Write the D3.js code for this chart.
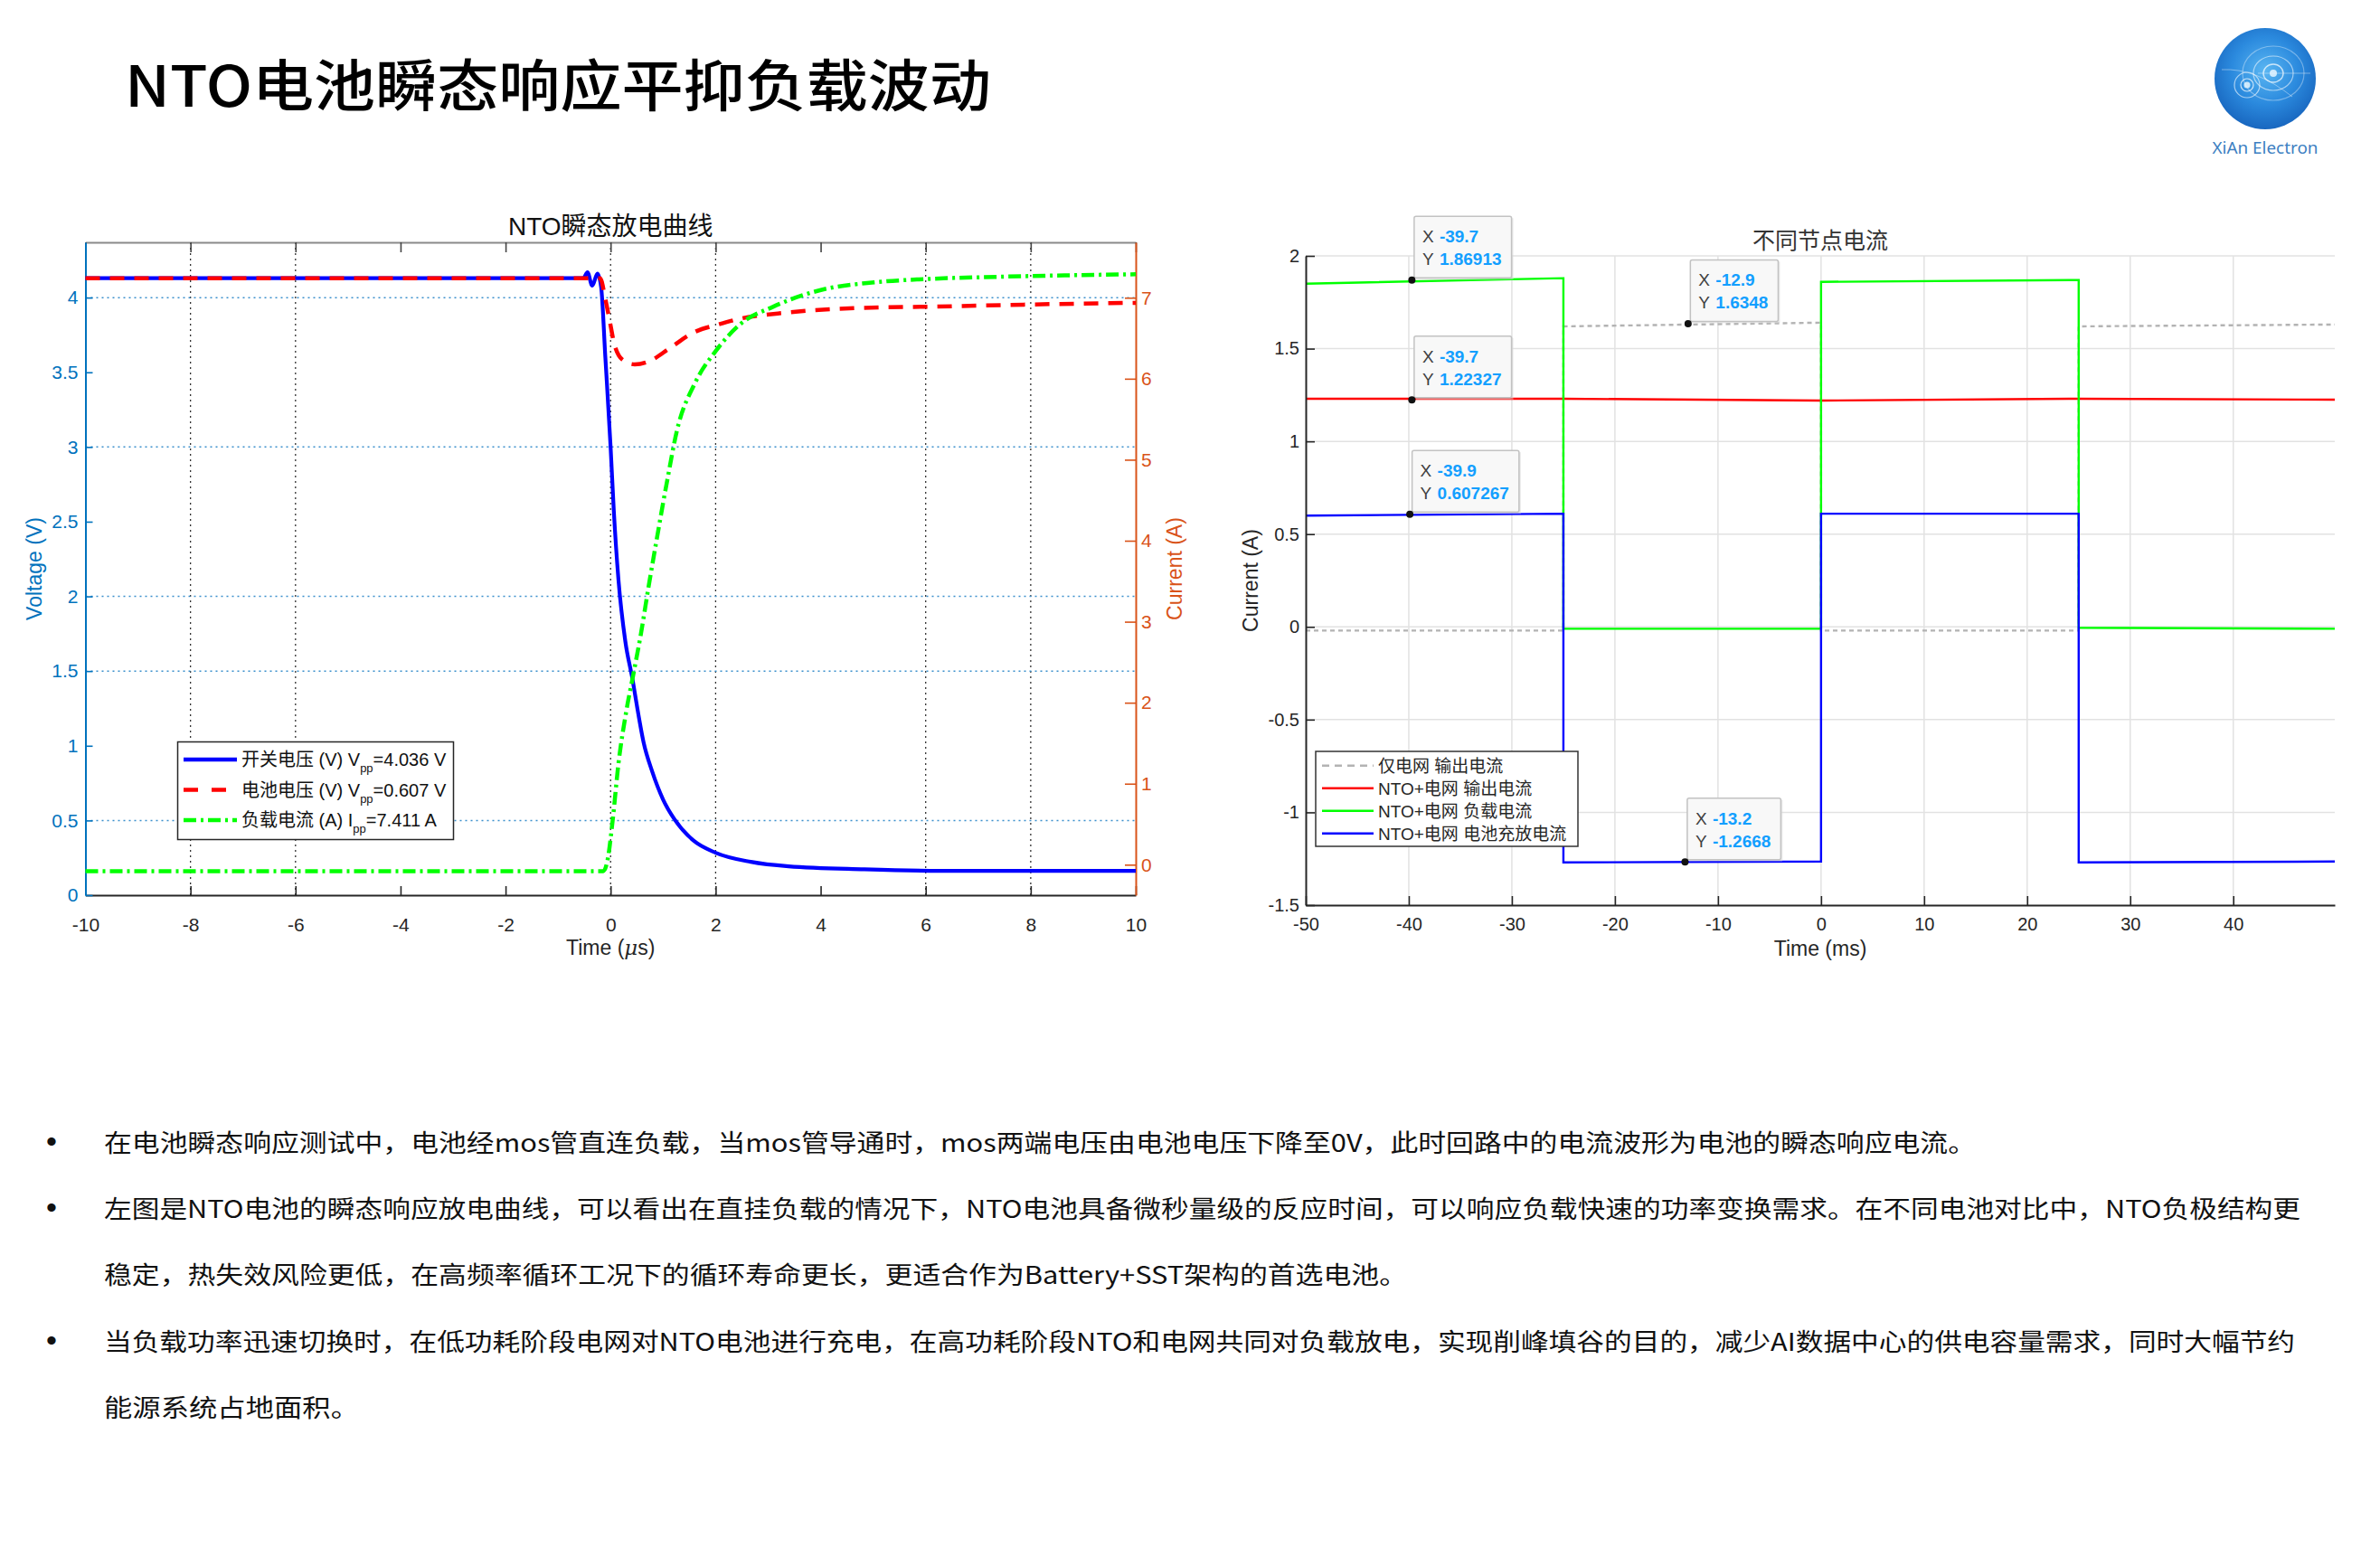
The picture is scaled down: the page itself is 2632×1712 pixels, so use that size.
<!DOCTYPE html>
<html>
<head>
<meta charset="utf-8">
<script src="https://cdn.jsdelivr.net/npm/d3@7"></script>
<style>
  html, body { margin: 0; padding: 0; background: #fff; }
  svg { display: block; }
</style>
</head>
<body>
<svg id="page" width="2632" height="1712"></svg>
<script>
// NTO transient response slide — two scope charts + notes

const FONT = "'Liberation Sans', Arial, 'Noto Sans CJK SC', sans-serif";
const CJK = "'Noto Sans CJK SC', 'Liberation Sans', sans-serif";

// ---- left chart: transient discharge (time in us) ----
const pulseTicks = [-10, -8, -6, -4, -2, 0, 2, 4, 6, 8, 10];
const pulseGrid = [-8, -6, 0, 2, 6, 8];
const voltTicks = [0, 0.5, 1, 1.5, 2, 2.5, 3, 3.5, 4];
const voltGrid = [0.5, 1.5, 2, 3, 4];
const ampTicks = [0, 1, 2, 3, 4, 5, 6, 7];

// [time us, volts]
const switchVoltage = [
  [-10, 4.13], [-0.52, 4.13], [-0.44, 4.17], [-0.35, 4.08], [-0.25, 4.16],
  [-0.18, 4.07], [-0.1, 3.6], [0, 3.0], [0.06, 2.58], [0.15, 2.11],
  [0.28, 1.7], [0.42, 1.44], [0.5, 1.27], [0.63, 1.02], [0.79, 0.83],
  [1.0, 0.64], [1.22, 0.506], [1.58, 0.365], [2.0, 0.284], [2.67, 0.223],
  [3.39, 0.193], [4.83, 0.173], [6.28, 0.163], [10, 0.163]
];
const batteryVoltage = [
  [-10, 4.13], [-0.2, 4.13], [-0.1, 3.99], [-0.02, 3.85], [0.07, 3.69],
  [0.24, 3.58], [0.46, 3.553], [0.77, 3.58], [1.12, 3.66], [1.6, 3.77],
  [2.05, 3.82], [2.48, 3.86], [3.37, 3.9], [4.68, 3.93], [6.17, 3.94],
  [8.0, 3.954], [10, 3.965]
];
// [time us, amps]
const loadCurrent = [
  [-10, -0.08], [-0.14, -0.08], [-0.06, 0.05], [0.04, 0.55], [0.15, 1.25],
  [0.3, 1.9], [0.43, 2.34], [0.58, 2.86], [0.72, 3.42], [0.86, 3.95],
  [1.08, 4.75], [1.26, 5.35], [1.61, 5.95], [2.0, 6.34], [2.48, 6.68],
  [3.1, 6.89], [3.97, 7.09], [5.02, 7.19], [5.99, 7.23], [7.48, 7.26], [10, 7.29]
];
const pulseLegend = [
  { head: "开关电压 (V) V", sub: "pp", tail: "=4.036 V" },
  { head: "电池电压 (V) V", sub: "pp", tail: "=0.607 V" },
  { head: "负载电流 (A) I", sub: "pp", tail: "=7.411 A" }
];

// ---- right chart: node currents (time in ms) ----
const nodeTicksX = [-50, -40, -30, -20, -10, 0, 10, 20, 30, 40];
const nodeTicksY = [-1.5, -1, -0.5, 0, 0.5, 1, 1.5, 2];
// [time ms, amps]
const gridOnly = [[-50, -0.02], [-25, -0.02], [-25, 1.62], [0, 1.64], [0, -0.02], [25, -0.02], [25, 1.62], [49.85, 1.63]];
const ntoOutput = [[-50, 1.23], [-25, 1.23], [0, 1.22], [25, 1.23], [49.85, 1.225]];
const ntoLoad = [[-50, 1.85], [-25, 1.88], [-25, -0.01], [0, -0.01], [0, 1.86], [25, 1.87], [25, -0.005], [49.85, -0.01]];
const ntoBattery = [[-50, 0.6], [-25, 0.61], [-25, -1.27], [0, -1.265], [0, 0.61], [25, 0.61], [25, -1.27], [49.85, -1.265]];
const nodeLegend = ["仅电网 输出电流", "NTO+电网 输出电流", "NTO+电网 负载电流", "NTO+电网 电池充放电流"];
const dataTips = [
  { x: -39.7, y: 1.86913, xs: "-39.7", ys: "1.86913" },
  { x: -39.7, y: 1.22327, xs: "-39.7", ys: "1.22327" },
  { x: -39.9, y: 0.607267, xs: "-39.9", ys: "0.607267" },
  { x: -12.9, y: 1.6348, xs: "-12.9", ys: "1.6348" },
  { x: -13.2, y: -1.2668, xs: "-13.2", ys: "-1.2668" }
];

// ---- notes below the charts ----
const noteLines = [
  { bullet: true,  text: "在电池瞬态响应测试中，电池经mos管直连负载，当mos管导通时，mos两端电压由电池电压下降至0V，此时回路中的电流波形为电池的瞬态响应电流。" },
  { bullet: true,  text: "左图是NTO电池的瞬态响应放电曲线，可以看出在直挂负载的情况下，NTO电池具备微秒量级的反应时间，可以响应负载快速的功率变换需求。在不同电池对比中，NTO负极结构更" },
  { bullet: false, text: "稳定，热失效风险更低，在高频率循环工况下的循环寿命更长，更适合作为Battery+SST架构的首选电池。" },
  { bullet: true,  text: "当负载功率迅速切换时，在低功耗阶段电网对NTO电池进行充电，在高功耗阶段NTO和电网共同对负载放电，实现削峰填谷的目的，减少AI数据中心的供电容量需求，同时大幅节约" },
  { bullet: false, text: "能源系统占地面积。" }
];

const svg = d3.select("#page");
const fmtTick = d => String(d);

function styleAxis(g, color, size, textColor) {
  g.select(".domain").attr("stroke", color).attr("stroke-width", 2);
  g.selectAll(".tick line").attr("stroke", color).attr("stroke-width", 1.6);
  g.selectAll(".tick text")
    .attr("fill", textColor || color)
    .attr("font-family", FONT)
    .attr("font-size", size);
}

// ---------- header ----------
svg.append("text")
  .attr("x", 138).attr("y", 118)
  .attr("font-family", CJK).attr("font-size", 62).attr("font-weight", 500)
  .attr("fill", "#000")
  .attr("textLength", 958).attr("lengthAdjust", "spacingAndGlyphs")
  .text("NTO电池瞬态响应平抑负载波动");

// logo
const defs = svg.append("defs");
const grad = defs.append("radialGradient").attr("id", "logoGrad")
  .attr("cx", "50%").attr("cy", "42%").attr("r", "60%");
grad.append("stop").attr("offset", "0%").attr("stop-color", "#5ab6f2");
grad.append("stop").attr("offset", "55%").attr("stop-color", "#2b8ade");
grad.append("stop").attr("offset", "100%").attr("stop-color", "#1764bd");

const logo = svg.append("g").attr("transform", "translate(2505,87)");
logo.append("circle").attr("r", 56).attr("fill", "url(#logoGrad)");
const orbit = logo.append("g").attr("fill", "none").attr("stroke", "#fff");
orbit.append("ellipse").attr("cx", 9).attr("cy", -6).attr("rx", 34).attr("ry", 30).attr("stroke-opacity", 0.35).attr("stroke-width", 1.2);
orbit.append("ellipse").attr("cx", 9).attr("cy", -6).attr("rx", 22).attr("ry", 19).attr("stroke-opacity", 0.55).attr("stroke-width", 1.2);
orbit.append("ellipse").attr("cx", 9).attr("cy", -6).attr("rx", 11).attr("ry", 10).attr("stroke-opacity", 0.7).attr("stroke-width", 1.4);
orbit.append("circle").attr("cx", -20).attr("cy", 7).attr("r", 14).attr("stroke-opacity", 0.6).attr("stroke-width", 1.2);
orbit.append("circle").attr("cx", -20).attr("cy", 7).attr("r", 7).attr("stroke-opacity", 0.75).attr("stroke-width", 1.2);
orbit.append("path").attr("d", "M-48,-10 Q-10,-12 30,20").attr("stroke-opacity", 0.4).attr("stroke-width", 1);
orbit.append("line").attr("x1", -8).attr("y1", -6).attr("x2", 50).attr("y2", -6).attr("stroke-opacity", 0.4).attr("stroke-width", 1);
logo.append("circle").attr("cx", 9).attr("cy", -6).attr("r", 4).attr("fill", "#e8f6ff").attr("fill-opacity", 0.85);
logo.append("circle").attr("cx", -20).attr("cy", 7).attr("r", 3.5).attr("fill", "#e8f6ff").attr("fill-opacity", 0.85);
svg.append("text")
  .attr("x", 2505).attr("y", 170).attr("text-anchor", "middle")
  .attr("font-family", "'Noto Sans', 'Liberation Sans', sans-serif")
  .attr("font-size", 18).attr("fill", "#3d7fc2")
  .attr("textLength", 117).attr("lengthAdjust", "spacingAndGlyphs")
  .text("XiAn Electron");

// ---------- left chart ----------
const L = { left: 94.5, right: 1256, top: 268, bottom: 990 };
const xL = d3.scaleLinear().domain([-10, 10]).range([L.left, L.right]);
const yV = d3.scaleLinear().domain([0, 4.37]).range([L.bottom, L.top]);
const yA = d3.scaleLinear().domain([-0.376, 7.684]).range([L.bottom, L.top]);

const gL = svg.append("g");

gL.selectAll(".xgrid").data(pulseGrid).join("line")
  .attr("class", "xgrid")
  .attr("x1", d => xL(d)).attr("x2", d => xL(d))
  .attr("y1", L.top).attr("y2", L.bottom)
  .attr("stroke", "#333").attr("stroke-width", 1.3).attr("stroke-dasharray", "2,4");

gL.selectAll(".ygrid").data(voltGrid).join("line")
  .attr("class", "ygrid")
  .attr("x1", L.left).attr("x2", L.right)
  .attr("y1", d => yV(d)).attr("y2", d => yV(d))
  .attr("stroke", "#3b8fcc").attr("stroke-width", 1.5).attr("stroke-dasharray", "2,4");

const axTop = gL.append("g").attr("transform", `translate(0,${L.top})`)
  .call(d3.axisTop(xL).tickValues(pulseTicks).tickSize(-11).tickSizeOuter(0).tickFormat(""));
styleAxis(axTop, "#8a8a8a", 21);
axTop.selectAll(".tick line").attr("stroke", "#444");

const axBot = gL.append("g").attr("transform", `translate(0,${L.bottom})`)
  .call(d3.axisBottom(xL).tickValues(pulseTicks).tickSize(-10).tickSizeOuter(0).tickPadding(25).tickFormat(fmtTick));
styleAxis(axBot, "#262626", 21);

const axV = gL.append("g").attr("transform", `translate(${L.left},0)`)
  .call(d3.axisLeft(yV).tickValues(voltTicks).tickSize(-8).tickSizeOuter(0).tickPadding(8).tickFormat(fmtTick));
styleAxis(axV, "#0072BD", 21);

const axA = gL.append("g").attr("transform", `translate(${L.right},0)`)
  .call(d3.axisRight(yA).tickValues(ampTicks).tickSize(-12).tickSizeOuter(0).tickPadding(6).tickFormat(fmtTick));
styleAxis(axA, "#D95319", 21);

const lineV = d3.line().x(d => xL(d[0])).y(d => yV(d[1])).curve(d3.curveMonotoneX);
const lineA = d3.line().x(d => xL(d[0])).y(d => yA(d[1])).curve(d3.curveMonotoneX);

gL.append("path").datum(switchVoltage).attr("d", lineV)
  .attr("fill", "none").attr("stroke", "#0000ff").attr("stroke-width", 4.2);
gL.append("path").datum(batteryVoltage).attr("d", lineV)
  .attr("fill", "none").attr("stroke", "#ff0000").attr("stroke-width", 4.5)
  .attr("stroke-dasharray", "16,11");
gL.append("path").datum(loadCurrent).attr("d", lineA)
  .attr("fill", "none").attr("stroke", "#00ff00").attr("stroke-width", 4.5)
  .attr("stroke-dasharray", "14,5,3,5");

// titles and labels
gL.append("text")
  .attr("x", (L.left + L.right) / 2).attr("y", 260).attr("text-anchor", "middle")
  .attr("font-family", FONT).attr("font-size", 28).attr("fill", "#111")
  .text("NTO瞬态放电曲线");

gL.append("text")
  .attr("transform", `translate(46,${(L.top + L.bottom) / 2}) rotate(-90)`)
  .attr("text-anchor", "middle")
  .attr("font-family", FONT).attr("font-size", 23).attr("fill", "#0072BD")
  .text("Voltage (V)");

gL.append("text")
  .attr("transform", `translate(1307,${(L.top + L.bottom) / 2}) rotate(-90)`)
  .attr("text-anchor", "middle")
  .attr("font-family", FONT).attr("font-size", 23).attr("fill", "#D95319")
  .text("Current (A)");

const tLabel = gL.append("text")
  .attr("x", (L.left + L.right) / 2).attr("y", 1056).attr("text-anchor", "middle")
  .attr("font-family", FONT).attr("font-size", 23).attr("fill", "#262626");
tLabel.append("tspan").text("Time (");
tLabel.append("tspan").attr("font-style", "italic").attr("font-family", "'DejaVu Serif', serif").text("μ");
tLabel.append("tspan").text("s)");

// legend
const lgL = gL.append("g");
lgL.append("rect")
  .attr("x", 196.5).attr("y", 820.5).attr("width", 305).attr("height", 108)
  .attr("fill", "#fff").attr("stroke", "#262626").attr("stroke-width", 1.5);
const legendStyles = [
  { color: "#0000ff", dash: null },
  { color: "#ff0000", dash: "16,15" },
  { color: "#00ff00", dash: "14,5,3,5" }
];
pulseLegend.forEach((d, i) => {
  const yy = 840 + i * 33.5;
  lgL.append("line")
    .attr("x1", 203).attr("x2", 262).attr("y1", yy).attr("y2", yy)
    .attr("stroke", legendStyles[i].color).attr("stroke-width", 4.5)
    .attr("stroke-dasharray", legendStyles[i].dash);
  const t = lgL.append("text")
    .attr("x", 267).attr("y", yy + 7)
    .attr("font-family", FONT).attr("font-size", 20).attr("fill", "#111");
  t.append("tspan").text(d.head);
  t.append("tspan").attr("font-size", 13).attr("dy", 7).text(d.sub);
  t.append("tspan").attr("dy", -7).text(d.tail);
});

// ---------- right chart ----------
const R = { left: 1444, right: 2582, top: 283, bottom: 1001 };
const xR = d3.scaleLinear().domain([-50, 49.85]).range([R.left, R.right]);
const yR = d3.scaleLinear().domain([-1.5, 2]).range([R.bottom, R.top]);

const gR = svg.append("g");

gR.selectAll(".xgrid").data(nodeTicksX.filter(d => d > -50)).join("line")
  .attr("class", "xgrid")
  .attr("x1", d => xR(d)).attr("x2", d => xR(d))
  .attr("y1", R.top).attr("y2", R.bottom)
  .attr("stroke", "#e2e2e2").attr("stroke-width", 1.5);
gR.selectAll(".ygrid").data(nodeTicksY.filter(d => d > -1.5)).join("line")
  .attr("class", "ygrid")
  .attr("x1", R.left).attr("x2", R.right)
  .attr("y1", d => yR(d)).attr("y2", d => yR(d))
  .attr("stroke", "#e2e2e2").attr("stroke-width", 1.5);

const nodeLine = d3.line().x(d => xR(d[0])).y(d => yR(d[1]));
const nodeSeries = [
  { data: gridOnly,   color: "#b3b3b3", dash: "5,4" },
  { data: ntoOutput,  color: "#ff0000", dash: null },
  { data: ntoLoad,    color: "#00ff00", dash: null },
  { data: ntoBattery, color: "#0000ff", dash: null }
];
nodeSeries.forEach(s => {
  gR.append("path").datum(s.data).attr("d", nodeLine)
    .attr("fill", "none").attr("stroke", s.color).attr("stroke-width", 2.4)
    .attr("stroke-dasharray", s.dash);
});

const axRB = gR.append("g").attr("transform", `translate(0,${R.bottom})`)
  .call(d3.axisBottom(xR).tickValues(nodeTicksX).tickSize(-10).tickSizeOuter(0).tickPadding(14).tickFormat(fmtTick));
styleAxis(axRB, "#262626", 20);
const axRL = gR.append("g").attr("transform", `translate(${R.left},0)`)
  .call(d3.axisLeft(yR).tickValues(nodeTicksY).tickSize(-10).tickSizeOuter(0).tickPadding(7).tickFormat(fmtTick));
styleAxis(axRL, "#262626", 20);

gR.append("text")
  .attr("x", (R.left + R.right) / 2).attr("y", 275).attr("text-anchor", "middle")
  .attr("font-family", CJK).attr("font-size", 25).attr("fill", "#333")
  .text("不同节点电流");
gR.append("text")
  .attr("x", (R.left + R.right) / 2).attr("y", 1057).attr("text-anchor", "middle")
  .attr("font-family", FONT).attr("font-size", 23).attr("fill", "#262626")
  .text("Time (ms)");
gR.append("text")
  .attr("transform", `translate(1391,${(R.top + R.bottom) / 2}) rotate(-90)`)
  .attr("text-anchor", "middle")
  .attr("font-family", FONT).attr("font-size", 23).attr("fill", "#262626")
  .text("Current (A)");

// legend
const lgR = gR.append("g");
lgR.append("rect")
  .attr("x", 1455).attr("y", 831).attr("width", 290).attr("height", 105)
  .attr("fill", "#fff").attr("stroke", "#333").attr("stroke-width", 1.5);
nodeLegend.forEach((name, i) => {
  const yy = 846.7 + i * 25;
  lgR.append("line")
    .attr("x1", 1462).attr("x2", 1519).attr("y1", yy).attr("y2", yy)
    .attr("stroke", nodeSeries[i].color).attr("stroke-width", 2.4)
    .attr("stroke-dasharray", nodeSeries[i].dash ? "8,6" : null);
  lgR.append("text")
    .attr("x", 1524).attr("y", yy + 7)
    .attr("font-family", FONT).attr("font-size", 19).attr("fill", "#262626")
    .text(name);
});

// data tips
dataTips.forEach(d => {
  const px = xR(d.x), py = yR(d.y);
  const tip = gR.append("g");
  const xv = tip.append("text").attr("font-family", FONT).attr("font-size", 19)
    .attr("font-weight", "bold").attr("fill", "#139fff").text(d.xs);
  const yv = tip.append("text").attr("font-family", FONT).attr("font-size", 19)
    .attr("font-weight", "bold").attr("fill", "#139fff").text(d.ys);
  const w = 28 + Math.max(xv.node().getComputedTextLength(), yv.node().getComputedTextLength()) + 11;
  const h = 68;
  const bx = px + 2.5, by = py - 2.5 - h;
  tip.insert("rect", "text")
    .attr("x", bx + 2).attr("y", by + 2).attr("width", w).attr("height", h)
    .attr("fill", "#d6d6d6").attr("opacity", 0.5);
  tip.insert("rect", "text")
    .attr("x", bx).attr("y", by).attr("width", w).attr("height", h).attr("rx", 2)
    .attr("fill", "#f8f8f8").attr("stroke", "#c2c2c2").attr("stroke-width", 1.5);
  xv.attr("x", bx + 28).attr("y", by + 29);
  yv.attr("x", bx + 28).attr("y", by + 54);
  tip.append("text").attr("x", bx + 9).attr("y", by + 29)
    .attr("font-family", FONT).attr("font-size", 19).attr("fill", "#404040").text("X");
  tip.append("text").attr("x", bx + 9).attr("y", by + 54)
    .attr("font-family", FONT).attr("font-size", 19).attr("fill", "#404040").text("Y");
  gR.append("circle").attr("cx", px).attr("cy", py).attr("r", 4).attr("fill", "#111");
});

// ---------- notes ----------
const noteEnds = [2185, 2544, 1556, 2538, 397];
const notes = svg.append("g").attr("font-family", CJK).attr("fill", "#111");
noteLines.forEach((d, i) => {
  const base = 1273.5 + i * 73.4;
  if (d.bullet) {
    notes.append("text").attr("x", 57).attr("y", base).attr("text-anchor", "middle")
      .attr("font-family", FONT).attr("font-size", 34).text("•");
  }
  notes.append("text")
    .attr("x", 115).attr("y", base).attr("font-size", 27)
    .attr("textLength", noteEnds[i] - 115).attr("lengthAdjust", "spacingAndGlyphs")
    .text(d.text);
});
</script>
</body>
</html>
